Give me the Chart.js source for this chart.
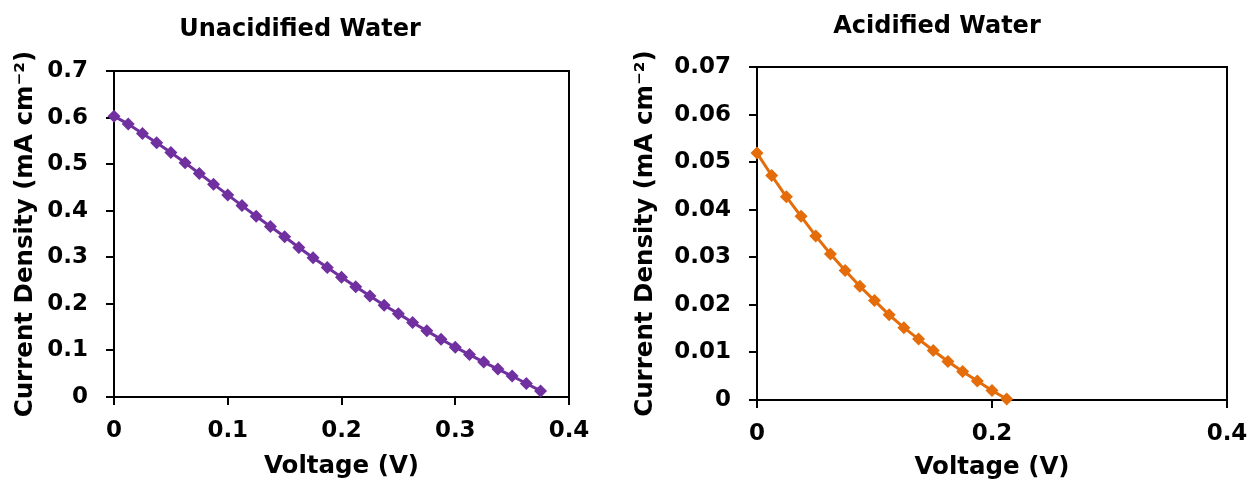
<!DOCTYPE html>
<html>
<head>
<meta charset="utf-8">
<script src="https://cdn.jsdelivr.net/npm/chart.js@4.4.1/dist/chart.umd.min.js"></script>
<style>
body{margin:0;background:#fff;width:1250px;height:481px;overflow:hidden;position:relative}
.box{position:absolute;top:0;height:481px}
</style>
</head>
<body>
<div class="box" style="left:0;width:620px"><canvas id="c1" width="620" height="481"></canvas></div>
<div class="box" style="left:620px;width:650px"><canvas id="c2" width="650" height="481"></canvas></div>
<script>
// unacidified water
const voltsUnacid = [0, 0.0125, 0.025, 0.0375, 0.05, 0.0625, 0.075, 0.0875, 0.1, 0.1125,
  0.125, 0.1375, 0.15, 0.1625, 0.175, 0.1875, 0.2, 0.2125, 0.225, 0.2375,
  0.25, 0.2625, 0.275, 0.2875, 0.3, 0.3125, 0.325, 0.3375, 0.35, 0.3625, 0.375];
const currUnacid = [0.603, 0.586, 0.566, 0.546, 0.525, 0.503, 0.480, 0.457, 0.434, 0.411,
  0.388, 0.366, 0.344, 0.321, 0.299, 0.278, 0.257, 0.237, 0.217, 0.197,
  0.179, 0.160, 0.142, 0.124, 0.107, 0.091, 0.075, 0.060, 0.045, 0.029, 0.013];

// acidified water
const voltsAcid = [0, 0.0125, 0.025, 0.0375, 0.05, 0.0625, 0.075, 0.0875, 0.1,
  0.1125, 0.125, 0.1375, 0.15, 0.1625, 0.175, 0.1875, 0.2, 0.2125];
const currAcid = [0.0519, 0.0472, 0.0427, 0.0386, 0.0345, 0.0307, 0.0272, 0.0239, 0.0209,
  0.0179, 0.0152, 0.0128, 0.0104, 0.0081, 0.0060, 0.0040, 0.0020, 0.0002];

const xTitle = 'Voltage (V)';
const yTitle = 'Current Density (mA cm\u207B\u00B2)';

const FONT = 'DejaVu Sans';

// box round the plot area
const frame = {
  id: 'frame',
  beforeDatasetsDraw(chart){
    const a = chart.chartArea;
    const ctx = chart.ctx;
    ctx.save();
    ctx.strokeStyle = '#000';
    ctx.lineWidth = 2;
    ctx.strokeRect(a.left, a.top, a.right - a.left, a.bottom - a.top);
    ctx.restore();
  }
};

function makeChart(id, o){
  const pts = o.xs.map((x, i) => ({x: x, y: o.ys[i]}));
  return new Chart(document.getElementById(id), {
    type: 'scatter',
    data: {
      datasets: [{
        data: pts,
        showLine: true,
        borderColor: o.color,
        backgroundColor: o.color,
        borderWidth: 3,
        pointStyle: 'rectRot',
        pointRadius: 6.5,
        pointBorderWidth: 0,
        clip: false
      }]
    },
    options: {
      responsive: false,
      animation: false,
      layout: {padding: o.pad},
      plugins: {
        legend: {display: false},
        tooltip: {enabled: false},
        title: {
          display: true,
          text: o.title,
          color: '#000',
          font: {family: FONT, weight: 'bold', size: 24},
          padding: o.titlePad
        }
      },
      scales: {
        x: {
          type: 'linear',
          min: 0, max: 0.4,
          afterFit: s => { s.height = o.xH; },
          border: {color: '#000', width: 2},
          grid: {drawOnChartArea: false, drawTicks: true, tickLength: 8, color: '#000', lineWidth: 2},
          ticks: {stepSize: o.xStep, color: '#000', padding: 12, maxRotation: 0,
            font: {family: FONT, weight: 'bold', size: 23}},
          title: {display: true, text: xTitle, color: '#000', padding: {top: 0, bottom: o.xtPad},
            font: {family: FONT, weight: 'bold', size: 24.5}}
        },
        y: {
          min: 0, max: o.yMax,
          afterFit: s => { s.width = o.yW; },
          border: {color: '#000', width: 2},
          grid: {drawOnChartArea: false, drawTicks: true, tickLength: 8, color: '#000', lineWidth: 2},
          ticks: {stepSize: o.yStep, color: '#000', padding: 18,
            font: {family: FONT, weight: 'bold', size: 23}},
          title: {display: true, text: yTitle, color: '#000', padding: {top: o.ytPad, bottom: 0},
            font: {family: FONT, weight: 'bold', size: 24.5}}
        }
      }
    },
    plugins: [frame]
  });
}

makeChart('c1', {
  title: 'Unacidified Water',
  xs: voltsUnacid, ys: currUnacid, color: '#7030A0',
  yMax: 0.7, yStep: 0.1, xStep: 0.1,
  pad: {left: 31, right: 51, top: 0, bottom: 0},
  titlePad: {top: 15.6, bottom: 26.6},
  xH: 84, yW: 83, xtPad: 0, ytPad: -19.7
});

makeChart('c2', {
  title: 'Acidified Water',
  xs: voltsAcid, ys: currAcid, color: '#E46C0A',
  yMax: 0.07, yStep: 0.01, xStep: 0.2,
  pad: {left: 27, right: 43, top: 0, bottom: 0},
  titlePad: {top: 12.6, bottom: 25.6},
  xH: 81, yW: 110, xtPad: -1, ytPad: -15.7
});
</script>
</body>
</html>
